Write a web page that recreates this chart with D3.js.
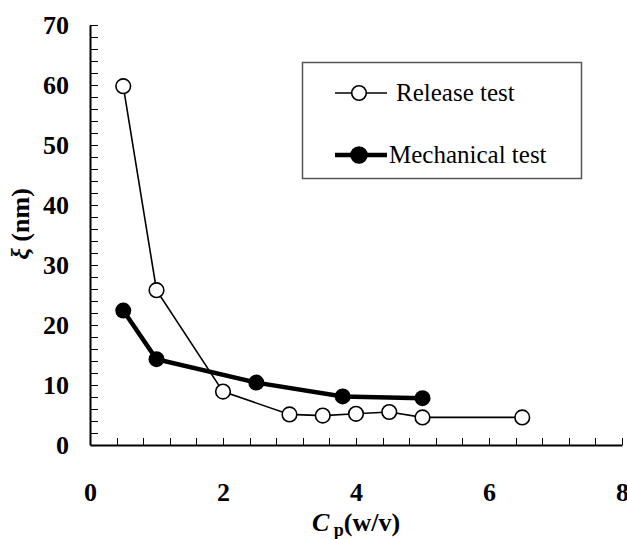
<!DOCTYPE html>
<html>
<head>
  <meta charset="utf-8" />
  <title>xi vs Cp</title>
  <script type="text/javascript" src="https://cdn.jsdelivr.net/npm/d3@7"></script>
  <style type="text/css">
  body {
    margin: 0;
    background: #fff;
  }
  svg text {
    font-family: "Liberation Serif", "DejaVu Serif", serif;
    fill: #000;
  }
  .axis path.domain {
    stroke: #000;
    stroke-width: 2px;
  }
  .axis .tick line {
    stroke: #000;
    stroke-width: 1px;
    shape-rendering: crispedges;
  }
  .axis text {
    font-size: 26px;
    font-weight: bold;
  }
  </style>
</head>
<body>
  <script type="text/javascript">
    // Release test (open circles)
    var releaseX = [0.5, 1, 2, 3, 3.5, 4, 4.5, 5, 6.5]
    var releaseY = [59.8, 25.8, 8.9, 5.1, 4.9, 5.2, 5.5, 4.6, 4.6]
    // Mechanical test (filled circles)
    var mechX = [0.5, 1, 2.5, 3.8, 5]
    var mechY = [22.4, 14.3, 10.4, 8.1, 7.8]

    var xTicks = [0, 2, 4, 6, 8]
    var yTicks = [0, 10, 20, 30, 40, 50, 60, 70]
    var legendLabels = ['Release test', 'Mechanical test']

    var w = 627,
        h = 539,
        pl = 90, pr = 622, pt = 25, pb = 445

    var x = d3.scaleLinear().domain([0, 8]).range([pl, pr]),
        y = d3.scaleLinear().domain([0, 70]).range([pb, pt])

    var svg = d3.select(document.body)
      .append('svg')
      .attr('width', w)
      .attr('height', h)

    // y axis: minor ticks every 2, labels every 10, ticks pointing inward
    svg.append('g')
      .attr('class', 'axis')
      .attr('transform', 'translate(' + pl + ',0)')
      .call(d3.axisLeft(y)
        .tickValues(d3.range(0, 71, 2))
        .tickSizeInner(-8).tickSizeOuter(0)
        .tickPadding(21)
        .tickFormat(function(d) { return yTicks.indexOf(d) >= 0 ? d : '' }))

    // x axis: minor ticks every 0.4, labels every 2
    var xMinor = d3.range(0, 21).map(function(i) { return +(i * 0.4).toFixed(1) })
    svg.append('g')
      .attr('class', 'axis')
      .attr('transform', 'translate(0,' + pb + ')')
      .call(d3.axisBottom(x)
        .tickValues(xMinor)
        .tickSizeInner(-7).tickSizeOuter(0)
        .tickPadding(38)
        .tickFormat(function(d) { return xTicks.indexOf(d) >= 0 ? d : '' }))

    svg.selectAll('.axis .tick').filter(function(d) { return d === 0 }).select('line').remove()

    // axis titles
    var xt = svg.append('text')
      .attr('x', 356)
      .attr('y', 531)
      .attr('text-anchor', 'middle')
      .style('font-size', '26px')
      .style('font-weight', 'bold')
    xt.append('tspan').style('font-style', 'italic').text('C')
    xt.append('tspan').attr('dy', 5).style('font-size', '18px').text(' p')
    xt.append('tspan').attr('dy', -5).text('(w/v)')

    var yt = svg.append('text')
      .attr('transform', 'translate(29,224) rotate(-90)')
      .attr('text-anchor', 'middle')
      .style('font-size', '26px')
      .style('font-weight', 'bold')
    yt.append('tspan').style('font-style', 'italic').text('ξ')
    yt.append('tspan').text(' (nm)')

    var line = d3.line()
      .x(function(d) { return x(d[0]) })
      .y(function(d) { return y(d[1]) })

    var release = releaseX.map(function(v, i) { return [v, releaseY[i]] })
    var mech = mechX.map(function(v, i) { return [v, mechY[i]] })

    svg.append('path')
      .datum(release)
      .attr('d', line)
      .attr('fill', 'none')
      .attr('stroke', '#000')
      .attr('stroke-width', 1.6)

    svg.append('path')
      .datum(mech)
      .attr('d', line)
      .attr('fill', 'none')
      .attr('stroke', '#000')
      .attr('stroke-width', 4.5)

    svg.selectAll('circle.rel')
      .data(release)
    .enter().append('circle')
      .attr('class', 'rel')
      .attr('cx', function(d) { return x(d[0]) })
      .attr('cy', function(d) { return y(d[1]) })
      .attr('r', 7.3)
      .attr('fill', '#fff')
      .attr('stroke', '#000')
      .attr('stroke-width', 1.6)

    svg.selectAll('circle.mech')
      .data(mech)
    .enter().append('circle')
      .attr('class', 'mech')
      .attr('cx', function(d) { return x(d[0]) })
      .attr('cy', function(d) { return y(d[1]) })
      .attr('r', 8)
      .attr('fill', '#000')

    // legend
    var lg = svg.append('g')
    lg.append('rect')
      .attr('x', 302.5).attr('y', 62.5)
      .attr('width', 279).attr('height', 116)
      .attr('fill', '#fff')
      .attr('stroke', '#555')
      .attr('stroke-width', 1.5)

    var rows = [
      { label: legendLabels[0], cy: 93, lw: 1.6, fill: '#fff', r: 7.3, tx: 396 },
      { label: legendLabels[1], cy: 155, lw: 4.5, fill: '#000', r: 8, tx: 389 }
    ]
    rows.forEach(function(r) {
      lg.append('line')
        .attr('x1', 335).attr('x2', 387)
        .attr('y1', r.cy).attr('y2', r.cy)
        .attr('stroke', '#000').attr('stroke-width', r.lw)
      lg.append('circle')
        .attr('cx', 359).attr('cy', r.cy).attr('r', r.r)
        .attr('fill', r.fill).attr('stroke', '#000').attr('stroke-width', 1.6)
      lg.append('text')
        .attr('x', r.tx).attr('y', r.cy + 8)
        .style('font-size', '25px')
        .text(r.label)
    })
  </script>
</body>
</html>
